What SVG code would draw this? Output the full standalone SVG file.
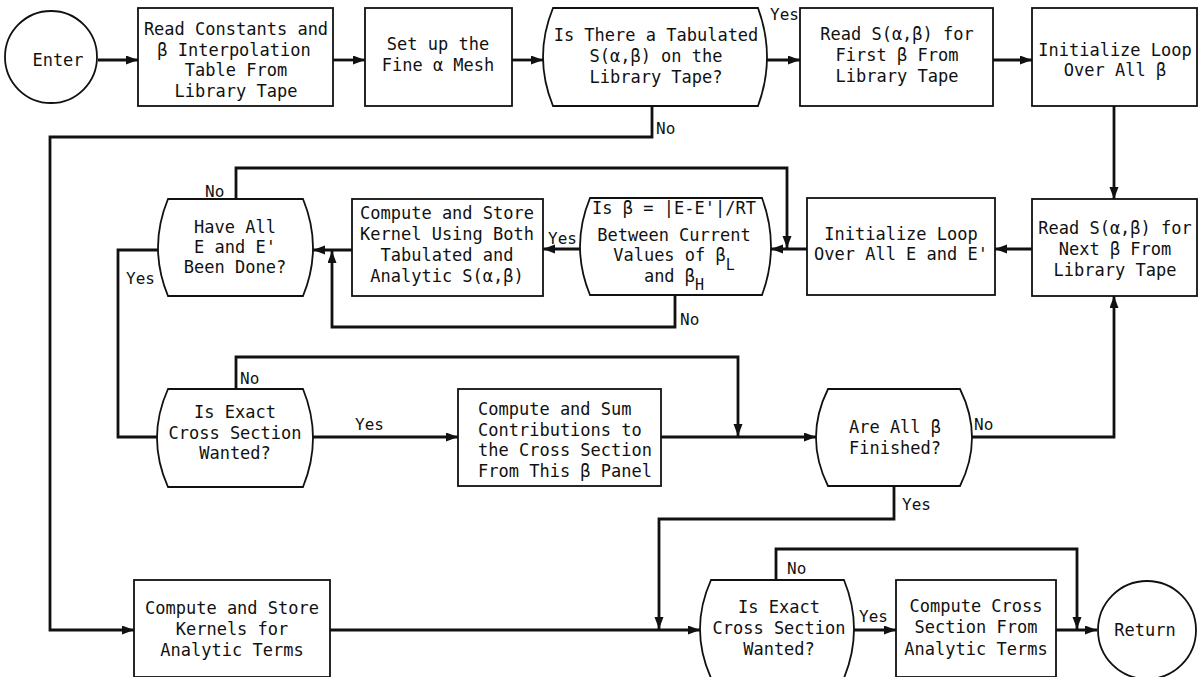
<svg xmlns="http://www.w3.org/2000/svg" width="1199" height="677" viewBox="0 0 1199 677">
<style>
.shape{fill:#fff;stroke:#111;stroke-width:1.8}
.conn{fill:none;stroke:#111;stroke-width:2.8;stroke-linejoin:miter}
.arr{marker-end:url(#ah)}
text{font-family:"DejaVu Sans Mono","Liberation Mono",monospace;font-size:17px;fill:#111}
.c{text-anchor:middle}
.lbl{font-size:16px}
.sub{font-size:15px}
</style>
<defs>
<marker id="ah" markerUnits="userSpaceOnUse" markerWidth="13" markerHeight="10" refX="12" refY="4.5" orient="auto">
<path d="M0,0 L12,4.5 L0,9 Z" fill="#111"/>
</marker>
</defs>
<rect width="1199" height="677" fill="#fff"/>

<g id="connectors">
<path class="conn arr" d="M98,60 H138"/>
<path class="conn arr" d="M333,60 H365"/>
<path class="conn arr" d="M512,60 H543"/>
<path class="conn arr" d="M767,60 H800"/>
<path class="conn arr" d="M993,60 H1032"/>
<path class="conn arr" d="M1114,106 V199"/>
<path class="conn arr" d="M652,106 V137 H50 V630 H134"/>
<path class="conn arr" d="M1032,249 H995"/>
<path class="conn arr" d="M807,249 H771"/>
<path class="conn arr" d="M580,249 H543"/>
<path class="conn arr" d="M352,250 H313"/>
<path class="conn arr" d="M675,295 V327 H332 V251"/>
<path class="conn arr" d="M236,199 V168 H787 V248"/>
<path class="conn" d="M158,250 H118 V437 H157"/>
<path class="conn arr" d="M313,437 H458"/>
<path class="conn arr" d="M236,389 V357 H738 V436"/>
<path class="conn arr" d="M661,437 H816"/>
<path class="conn arr" d="M972,437 H1114 V296"/>
<path class="conn arr" d="M894,486 V519 H659 V629"/>
<path class="conn arr" d="M330,630 H700"/>
<path class="conn arr" d="M854,630 H896"/>
<path class="conn arr" d="M776,580 V549 H1077 V629"/>
<path class="conn arr" d="M1056,630 H1097"/>
<text class="lbl" x="770" y="20">Yes</text>
<text class="lbl" x="656" y="134">No</text>
<text class="lbl" x="205" y="197">No</text>
<text class="lbl" x="548" y="244">Yes</text>
<text class="lbl" x="126" y="284">Yes</text>
<text class="lbl" x="680" y="325">No</text>
<text class="lbl" x="240" y="384">No</text>
<text class="lbl" x="355" y="430">Yes</text>
<text class="lbl" x="974" y="430">No</text>
<text class="lbl" x="902" y="510">Yes</text>
<text class="lbl" x="787" y="574">No</text>
<text class="lbl" x="859" y="622">Yes</text>
</g>

<g id="enter">
<circle class="shape" cx="51" cy="57" r="46"/>
<text class="c" x="58" y="66">Enter</text>
</g>

<g id="read-constants">
<rect class="shape" x="138" y="8" width="195" height="98"/>
<text class="c" x="236" y="35">Read Constants and</text>
<text class="c" x="234" y="56">β Interpolation</text>
<text class="c" x="236" y="76">Table From</text>
<text class="c" x="236" y="97">Library Tape</text>
</g>

<g id="fine-mesh">
<rect class="shape" x="365" y="8" width="147" height="98"/>
<text class="c" x="438" y="50">Set up the</text>
<text class="c" x="438" y="71">Fine α Mesh</text>
</g>

<g id="dec-tabulated">
<path class="shape" d="M553,8 L758,8 Q776,57 758,106 L553,106 Q533,57 553,8 Z"/>
<text class="c" x="656" y="41">Is There a Tabulated</text>
<text class="c" x="656" y="62">S(α,β) on the</text>
<text class="c" x="656" y="83">Library Tape?</text>
</g>

<g id="read-first">
<rect class="shape" x="800" y="8" width="193" height="98"/>
<text class="c" x="897" y="40">Read S(α,β) for</text>
<text class="c" x="897" y="61">First β From</text>
<text class="c" x="897" y="82">Library Tape</text>
</g>

<g id="init-beta">
<rect class="shape" x="1032" y="8" width="165" height="98"/>
<text class="c" x="1115" y="56">Initialize Loop</text>
<text class="c" x="1115" y="76">Over All β</text>
</g>

<g id="read-next">
<rect class="shape" x="1032" y="199" width="165" height="97"/>
<text class="c" x="1115" y="234">Read S(α,β) for</text>
<text class="c" x="1115" y="255">Next β From</text>
<text class="c" x="1115" y="276">Library Tape</text>
</g>

<g id="init-e">
<rect class="shape" x="807" y="198" width="188" height="97"/>
<text class="c" x="901" y="240">Initialize Loop</text>
<text class="c" x="901" y="260">Over All E and E'</text>
</g>

<g id="dec-beta">
<path class="shape" d="M590,198 L762,198 Q780,246.5 762,295 L590,295 Q570,246.5 590,198 Z"/>
<text class="c" x="674" y="214">Is β = |E-E'|/RT</text>
<text class="c" x="674" y="241">Between Current</text>
<text class="c" x="674" y="261">Values of β<tspan class="sub" dy="9">L</tspan></text>
<text class="c" x="674" y="282">and β<tspan class="sub" dy="8">H</tspan></text>
</g>

<g id="kernel-both">
<rect class="shape" x="352" y="199" width="191" height="97"/>
<text class="c" x="447" y="219">Compute and Store</text>
<text class="c" x="447" y="240">Kernel Using Both</text>
<text class="c" x="447" y="261">Tabulated and</text>
<text class="c" x="447" y="282">Analytic S(α,β)</text>
</g>

<g id="dec-all-e">
<path class="shape" d="M168,199 L303,199 Q323,247.5 303,296 L168,296 Q148,247.5 168,199 Z"/>
<text class="c" x="235" y="233">Have All</text>
<text class="c" x="235" y="253">E and E'</text>
<text class="c" x="235" y="273">Been Done?</text>
</g>

<g id="dec-exact-1">
<path class="shape" d="M168,389 L303,389 Q323,438 303,487 L168,487 Q146,438 168,389 Z"/>
<text class="c" x="235" y="418">Is Exact</text>
<text class="c" x="235" y="439">Cross Section</text>
<text class="c" x="235" y="459">Wanted?</text>
</g>

<g id="sum-contrib">
<rect class="shape" x="458" y="389" width="203" height="97"/>
<text x="478" y="415">Compute and Sum</text>
<text x="478" y="436">Contributions to</text>
<text x="478" y="456">the Cross Section</text>
<text x="478" y="477">From This β Panel</text>
</g>

<g id="dec-all-beta">
<path class="shape" d="M828,389 L960,389 Q984,437.5 960,486 L828,486 Q804,437.5 828,389 Z"/>
<text class="c" x="895" y="433">Are All β</text>
<text class="c" x="895" y="454">Finished?</text>
</g>

<g id="kernels-analytic">
<rect class="shape" x="134" y="580" width="196" height="97"/>
<text class="c" x="232" y="614">Compute and Store</text>
<text class="c" x="232" y="635">Kernels for</text>
<text class="c" x="232" y="656">Analytic Terms</text>
</g>

<g id="dec-exact-2">
<path class="shape" d="M711,580 L844,580 Q864,629 844,678 L711,678 Q689,629 711,580 Z"/>
<text class="c" x="779" y="613">Is Exact</text>
<text class="c" x="779" y="634">Cross Section</text>
<text class="c" x="779" y="655">Wanted?</text>
</g>

<g id="cross-analytic">
<rect class="shape" x="896" y="580" width="160" height="97"/>
<text class="c" x="976" y="612">Compute Cross</text>
<text class="c" x="976" y="633">Section From</text>
<text class="c" x="976" y="655">Analytic Terms</text>
</g>

<g id="return">
<circle class="shape" cx="1147" cy="630" r="49"/>
<text class="c" x="1145" y="636">Return</text>
</g>
</svg>
